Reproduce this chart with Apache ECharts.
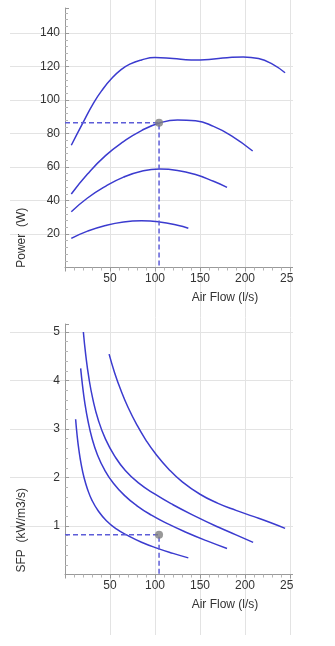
<!DOCTYPE html>
<html>
<head>
<meta charset="utf-8">
<script src="https://cdn.jsdelivr.net/npm/echarts@6/dist/echarts.min.js"></script>
<style>
  html, body { margin: 0; padding: 0; background: #ffffff; }
  #chart { width: 293px; height: 646px; }
</style>
</head>
<body>
<div id="chart"></div>
<script>
// Fan curves: power and specific fan power against air flow, four speed settings.
const flow1 = [7, 20, 32, 42, 52, 62, 72, 85, 100, 120, 140, 160, 180, 198, 215, 230, 244.5];
const power1 = [73, 86.5, 98.5, 106.5, 113, 118, 121.5, 124, 125.4, 124.8, 124.0, 124.3, 125.3, 125.8, 124.8, 121.6, 116.3];

const flow2 = [7, 25, 45, 65, 85, 105, 125, 145, 165, 185, 208.5];
const power2 = [43.9, 55.8, 66.8, 75.2, 81.8, 86.3, 88.1, 87.6, 84.3, 78.6, 69.6];

const flow3 = [7, 25, 45, 65, 85, 105, 125, 145, 165, 180];
const power3 = [33.3, 41.5, 48.5, 54, 57.5, 58.8, 58, 55.5, 51.5, 47.9];

const flow4 = [7, 25, 45, 65, 85, 105, 125, 137];
const power4 = [17.4, 21.7, 25.1, 27.2, 27.9, 27.2, 25.2, 23.4];

const sfpFlowA = [11.8, 13.5, 15.5, 18, 21, 25, 30, 37, 46, 57, 70, 85, 102, 120, 137];
const sfpA = [3.20, 2.86, 2.56, 2.27, 2.01, 1.76, 1.53, 1.31, 1.11, 0.94, 0.80, 0.665, 0.544, 0.435, 0.343];

const sfpFlowB = [17.4, 19.5, 22, 25.5, 30, 36, 44, 54, 66, 80, 96, 115, 135, 157, 180];
const sfpB = [4.25, 3.89, 3.54, 3.17, 2.81, 2.47, 2.155, 1.876, 1.632, 1.416, 1.224, 1.038, 0.867, 0.698, 0.537];

const sfpFlowC = [20.4, 23, 26.5, 31, 37, 45, 55, 67, 82, 100, 120, 145, 170, 190, 209];
const sfpC = [5.0, 4.535, 4.057, 3.61, 3.184, 2.791, 2.447, 2.146, 1.884, 1.655, 1.438, 1.199, 0.979, 0.818, 0.663];

const sfpFlowD = [49, 55, 62, 70, 80, 90, 100, 115, 130, 150, 170, 190, 210, 228, 244.5];
const sfpD = [4.543, 4.167, 3.803, 3.449, 3.08, 2.767, 2.504, 2.177, 1.915, 1.655, 1.467, 1.322, 1.193, 1.072, 0.951];

// Operating point
const opFlow = 104.5;
const opPower = 86.5;
const opSfp = 0.82;

// Axis ranges
const FLOW_MAX = 253.3;
const POWER_MAX = 155;
const SFP_MAX = 5.165;

const FONT = '"Liberation Sans", Arial, sans-serif';
const AXIS_GRAY = '#9a9a9a';
const GRID_GRAY = '#e3e3e3';
const CURVE = '#3b3bcf';
const DASH = '#5d5dd8';
const DOT = '#808080';

function zip(xs, ys) { return xs.map((x, i) => [x, ys[i]]); }

function flowAxis(gridIndex) {
  return {
    type: 'value', gridIndex: gridIndex, min: 0, max: FLOW_MAX, interval: 50,
    name: 'Air Flow (l/s)', nameLocation: 'middle', nameGap: 24,
    nameTextStyle: { color: '#333', fontSize: 12, fontFamily: FONT, padding: [0, 0, 0, 92] },
    axisLine: { show: true, onZero: false, lineStyle: { color: AXIS_GRAY, width: 1 } },
    axisTick: { show: true, inside: false, length: 4, lineStyle: { color: AXIS_GRAY } },
    minorTick: { show: true, splitNumber: 5, length: 3, lineStyle: { color: '#b5b5b5' } },
    axisLabel: { color: '#333', fontSize: 12, fontFamily: FONT, margin: 5, showMinLabel: false, showMaxLabel: false },
    splitLine: { show: false }
  };
}

function valueAxis(gridIndex, max, interval, name, shift) {
  return {
    type: 'value', gridIndex: gridIndex, min: 0, max: max, interval: interval,
    name: name, nameLocation: 'middle', nameGap: 37, nameRotate: 90,
    nameTextStyle: { color: '#333', fontSize: 12, fontFamily: FONT, padding: [0, shift, 0, 0] },
    axisLine: { show: true, onZero: false, lineStyle: { color: AXIS_GRAY, width: 1 } },
    axisTick: { show: true, inside: true, length: 4, lineStyle: { color: AXIS_GRAY } },
    minorTick: { show: true, splitNumber: 5, length: 3, lineStyle: { color: '#b5b5b5' } },
    axisLabel: { color: '#333', fontSize: 12, fontFamily: FONT, margin: 5, showMinLabel: false, showMaxLabel: false },
    splitLine: { show: false }
  };
}

// Background rule axes that carry only the grid lines
function ruleAxis(gridIndex, max, interval) {
  return {
    type: 'value', gridIndex: gridIndex, min: 0, max: max, interval: interval,
    axisLine: { show: false }, axisTick: { show: false }, axisLabel: { show: false },
    splitLine: { show: true, showMinLine: false, showMaxLine: false, lineStyle: { color: GRID_GRAY, width: 1 } }
  };
}
function hiddenAxis(gridIndex) {
  return { type: 'value', gridIndex: gridIndex, show: false, min: 0, max: 1 };
}

function curve(data, xi, yi) {
  return {
    type: 'line', xAxisIndex: xi, yAxisIndex: yi, data: data,
    smooth: 0.5, symbol: 'none', silent: true,
    lineStyle: { color: CURVE, width: 1.5 }, z: 3
  };
}
function guide(data, xi, yi) {
  return {
    type: 'line', xAxisIndex: xi, yAxisIndex: yi, data: data,
    symbol: 'none', silent: true,
    lineStyle: { color: DASH, width: 1.5, type: [5, 3] }, z: 4
  };
}
function dot(data, xi, yi) {
  return {
    type: 'scatter', xAxisIndex: xi, yAxisIndex: yi, data: data,
    symbolSize: 8, silent: true, itemStyle: { color: DOT }, z: 5
  };
}

const baseGrid = { containLabel: false, outerBoundsMode: 'none', show: false };

const option = {
  backgroundColor: '#ffffff',
  animation: false,
  grid: [
    Object.assign({ left: 65, top: 8, width: 228, height: 259.5 }, baseGrid),    // power plot
    Object.assign({ left: 10, top: 8, width: 283, height: 259.5 }, baseGrid),    // power horizontal rules
    Object.assign({ left: 65, top: 324, width: 228, height: 250.5 }, baseGrid),  // SFP plot
    Object.assign({ left: 10, top: 324, width: 283, height: 250.5 }, baseGrid),  // SFP horizontal rules
    Object.assign({ left: 65, top: 0, width: 228, height: 635 }, baseGrid)       // vertical rules
  ],
  xAxis: [
    flowAxis(0),
    hiddenAxis(1),
    flowAxis(2),
    hiddenAxis(3),
    ruleAxis(4, FLOW_MAX, 50)
  ],
  yAxis: [
    valueAxis(0, POWER_MAX, 20, 'Power  (W)', 200),
    ruleAxis(1, POWER_MAX, 20),
    valueAxis(2, SFP_MAX, 1, 'SFP  (kW/m3/s)', 162),
    ruleAxis(3, SFP_MAX, 1),
    hiddenAxis(4)
  ],
  series: [
    curve(zip(flow1, power1), 0, 0),
    curve(zip(flow2, power2), 0, 0),
    curve(zip(flow3, power3), 0, 0),
    curve(zip(flow4, power4), 0, 0),
    guide([[0, opPower], [opFlow, opPower], [opFlow, 0]], 0, 0),
    dot([[opFlow, opPower]], 0, 0),

    curve(zip(sfpFlowA, sfpA), 2, 2),
    curve(zip(sfpFlowB, sfpB), 2, 2),
    curve(zip(sfpFlowC, sfpC), 2, 2),
    curve(zip(sfpFlowD, sfpD), 2, 2),
    guide([[0, opSfp], [opFlow, opSfp], [opFlow, 0]], 2, 2),
    dot([[opFlow, opSfp]], 2, 2)
  ]
};

const chart = echarts.init(document.getElementById('chart'), null, { renderer: 'canvas' });
chart.setOption(option);
</script>
</body>
</html>
